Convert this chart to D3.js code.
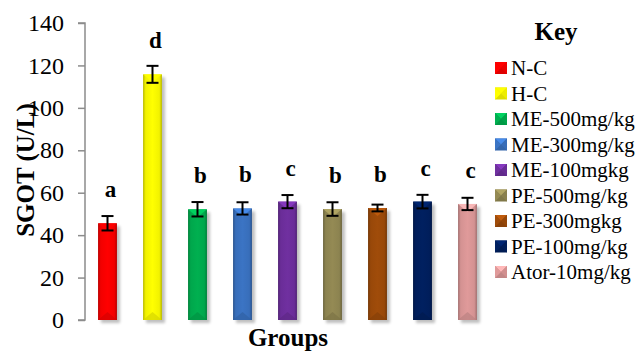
<!DOCTYPE html>
<html>
<head>
<meta charset="utf-8">
<script src="https://cdn.jsdelivr.net/npm/d3@7"></script>
<style>
  body { margin: 0; background: #fff; }
  svg text { font-family: "Liberation Serif", "DejaVu Serif", serif; }
</style>
</head>
<body>
<div id="chart"></div>
<script>
const groups = ["N-C", "H-C", "ME-500mg/kg", "ME-300mg/kg", "ME-100mgkg", "PE-500mg/kg", "PE-300mgkg", "PE-100mg/kg", "Ator-10mg/kg"];
const sgot = [45.6, 115.8, 52.2, 52.6, 55.8, 52.3, 52.8, 55.8, 54.7];
const sem = [3.4, 4.0, 3.4, 2.9, 3.1, 3.2, 1.6, 3.2, 2.9];
const letters = ["a", "d", "b", "b", "c", "b", "b", "c", "c"];
const colors = ["#ff0000", "#ffff00", "#00b050", "#3b74c4", "#7030a0", "#948a54", "#a04c0a", "#002060", "#e09a9a"];
const yTicks = [0, 20, 40, 60, 80, 100, 120, 140];

const W = 638, H = 351;
const FONT = '"Liberation Serif", "DejaVu Serif", serif';
const svg = d3.select('#chart').append('svg')
  .attr('width', W)
  .attr('height', H)
  .attr('font-family', FONT);

const x = d3.scaleBand().domain(groups).range([85, 490]).paddingInner(0.58).paddingOuter(0.29);
const y = d3.scaleLinear().domain([0, 140]).range([320, 23]);

// gradients for bevelled look
const defs = svg.append('defs');
groups.forEach((g, i) => {
  const c = d3.color(colors[i]);
  const grad = defs.append('linearGradient').attr('id', 'g' + i)
    .attr('x1', 0).attr('x2', 1).attr('y1', 0).attr('y2', 0);
  grad.append('stop').attr('offset', '0%').attr('stop-color', c.darker(0.9));
  grad.append('stop').attr('offset', '14%').attr('stop-color', c.darker(0.15));
  grad.append('stop').attr('offset', '50%').attr('stop-color', c);
  grad.append('stop').attr('offset', '86%').attr('stop-color', c.darker(0.15));
  grad.append('stop').attr('offset', '100%').attr('stop-color', c.darker(0.9));
});
const blur = defs.append('filter').attr('id', 'shadow').attr('x', '-50%').attr('width', '200%');
blur.append('feGaussianBlur').attr('stdDeviation', 1.5);

// y axis
const axis = svg.append('g').attr('transform', 'translate(85,0)')
  .call(d3.axisLeft(y).tickValues(yTicks).tickSize(7).tickPadding(14));
axis.attr('font-family', FONT);
axis.select('.domain').attr('stroke', '#8c8c8c').attr('stroke-width', 1.5).attr('d', `M-7,${y(140)}H0V${y(0)}H-7`);
axis.selectAll('.tick line').attr('stroke', '#8c8c8c').attr('stroke-width', 1.5);
axis.selectAll('.tick text').attr('font-size', '24px').attr('font-family', FONT).attr('fill', '#000');

// bars
const bw = x.bandwidth();
const bars = svg.append('g');
groups.forEach((g, i) => {
  const x0 = x(g), y0 = y(sgot[i]), y1 = y(0);
  const c = d3.color(colors[i]);
  bars.append('rect').attr('x', x0 + 3).attr('y', y0 + 3).attr('width', bw).attr('height', y1 - y0)
    .attr('fill', '#000').attr('opacity', 0.25).attr('filter', 'url(#shadow)');
  bars.append('rect').attr('x', x0).attr('y', y0).attr('width', bw).attr('height', y1 - y0)
    .attr('fill', `url(#g${i})`);
  const f = Math.min(bw / 2, 8);
  bars.append('path')
    .attr('d', `M${x0},${y0}L${x0 + bw},${y0}L${x0 + bw / 2},${y0 + f}Z`)
    .attr('fill', c.brighter(0.6)).attr('opacity', 0.8);
  bars.append('path')
    .attr('d', `M${x0},${y1}L${x0 + bw},${y1}L${x0 + bw / 2},${y1 - f}Z`)
    .attr('fill', c.darker(0.5)).attr('opacity', 0.7);
});

// error bars
const err = svg.append('g').attr('stroke', '#000').attr('stroke-width', 2);
groups.forEach((g, i) => {
  const cx = x(g) + bw / 2;
  const t = y(sgot[i] + sem[i]), b = y(sgot[i] - sem[i]);
  err.append('line').attr('x1', cx).attr('x2', cx).attr('y1', t).attr('y2', b);
  err.append('line').attr('x1', cx - 6).attr('x2', cx + 6).attr('y1', t).attr('y2', t);
  err.append('line').attr('x1', cx - 6).attr('x2', cx + 6).attr('y1', b).attr('y2', b);
});

// significance letters
svg.append('g').selectAll('text').data(groups).join('text')
  .attr('x', d => x(d) + bw / 2 + 3)
  .attr('y', (d, i) => y(sgot[i]) - 26)
  .attr('text-anchor', 'middle')
  .attr('font-family', FONT)
  .attr('font-size', '23px').attr('font-weight', 'bold')
  .text((d, i) => letters[i]);

// axis titles
svg.append('text')
  .attr('transform', 'translate(34,170) rotate(-90)')
  .attr('text-anchor', 'middle')
  .attr('font-family', FONT)
  .attr('font-size', '25px').attr('font-weight', 'bold')
  .text('SGOT (U/L)');
svg.append('text')
  .attr('x', 288).attr('y', 346)
  .attr('text-anchor', 'middle')
  .attr('font-family', FONT)
  .attr('font-size', '25px').attr('font-weight', 'bold')
  .text('Groups');

// legend
const legend = svg.append('g');
legend.append('text').attr('x', 556).attr('y', 40).attr('text-anchor', 'middle')
  .attr('font-family', FONT)
  .attr('font-size', '25px').attr('font-weight', 'bold').text('Key');
const rowY = d3.scalePoint().domain(groups).range([68, 272]);
groups.forEach((g, i) => {
  const cy = rowY(g);
  const c = d3.color(colors[i]);
  const sx = 495, s = 12, sy = cy - 6;
  legend.append('rect').attr('x', sx).attr('y', sy).attr('width', s).attr('height', s).attr('fill', c.darker(0.4));
  legend.append('path').attr('d', `M${sx},${sy}L${sx + s},${sy}L${sx + s / 2},${sy + s / 2}Z`).attr('fill', c.brighter(0.5));
  legend.append('path').attr('d', `M${sx},${sy}L${sx + s / 2},${sy + s / 2}L${sx},${sy + s}Z`).attr('fill', c);
  legend.append('path').attr('d', `M${sx + s},${sy}L${sx + s / 2},${sy + s / 2}L${sx + s},${sy + s}Z`).attr('fill', c.darker(0.2));
  legend.append('text').attr('x', 511).attr('y', cy + 7)
    .attr('font-family', FONT)
    .attr('font-size', '21px').text(g);
});
</script>
</body>
</html>
